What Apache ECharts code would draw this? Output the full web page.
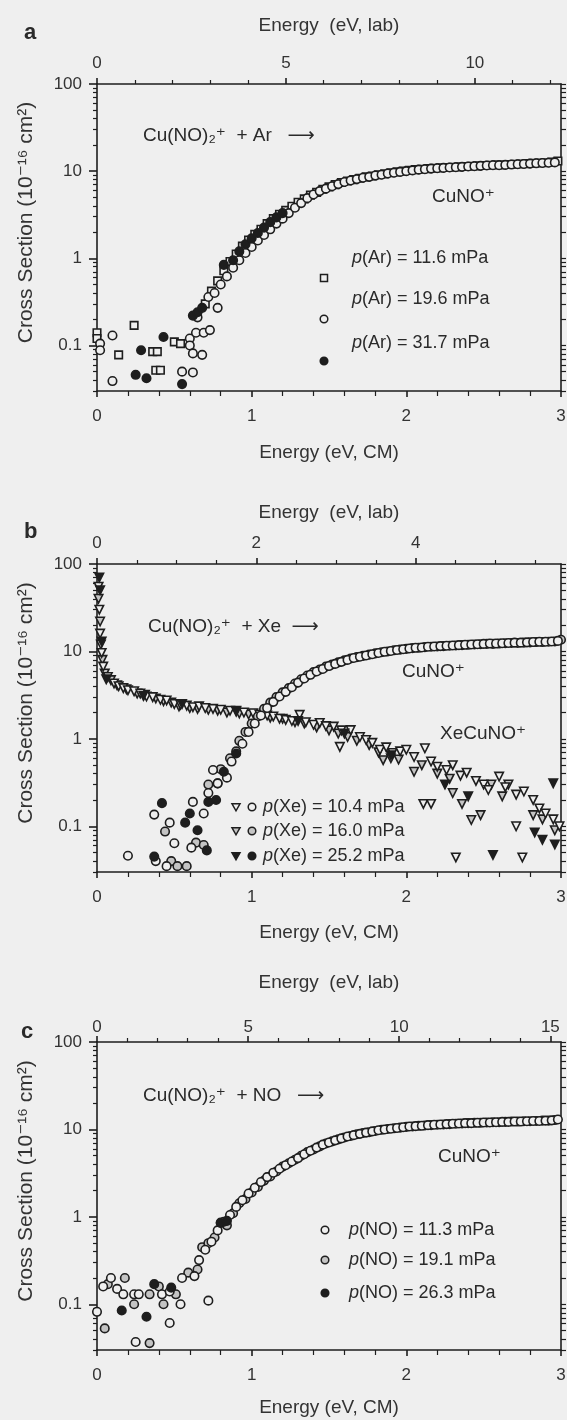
<!DOCTYPE html>
<html>
<head>
<meta charset="utf-8">
<script src="https://cdn.jsdelivr.net/npm/echarts@6/dist/echarts.min.js"></script>
<style>
  html, body { margin: 0; padding: 0; background: #efefef; }
  #chart { width: 567px; height: 1420px; }
</style>
</head>
<body>
<div id="chart"></div>
<script>
// ---- axis ticks ----
const cmTicks = [0, 1, 2, 3];
const yTickLabels = [0.1, 1, 10, 100];
const labTicksA = [0, 5, 10];
const labTicksB = [0, 2, 4];
const labTicksC = [0, 5, 10, 15];
const labMinorA = [1, 2, 3, 4, 6, 7, 8, 9, 11, 12];
const labMinorB = [0.5, 1, 1.5, 2.5, 3, 3.5, 4.5, 5, 5.5];
const labMinorC = [1, 2, 3, 4, 6, 7, 8, 9, 11, 12, 13, 14];

// masses (u) to turn CM energy into lab energy for the top axes
const ionMass = 123.57;      // Cu(NO)2+
const massAr = 39.95;
const massXe = 131.29;
const massNO = 30.01;

// ---- panel a : Cu(NO)2+ + Ar ----
const aAr116 = [
  [0.0, 0.14], [0.0, 0.12], [0.14, 0.078], [0.24, 0.17], [0.36, 0.085], [0.39, 0.085], [0.38, 0.052],
  [0.41, 0.052], [0.5, 0.11], [0.54, 0.105],
  [0.70, 0.30], [0.74, 0.42], [0.78, 0.55], [0.82, 0.72], [0.86, 0.92], [0.90, 1.12], [0.94, 1.38],
  [0.98, 1.62], [1.02, 1.88], [1.06, 2.15], [1.10, 2.5], [1.14, 2.85], [1.18, 3.2], [1.22, 3.55],
  [1.26, 3.95], [1.30, 4.4], [1.34, 4.8], [1.38, 5.3], [1.42, 5.7], [1.46, 6.2], [1.50, 6.6],
  [1.54, 7.0], [1.58, 7.4], [1.62, 7.7], [1.66, 8.0], [1.70, 8.3], [1.74, 8.6], [1.78, 8.8],
  [1.82, 9.1], [1.86, 9.3], [1.90, 9.6], [1.94, 9.8], [1.98, 10.0], [2.02, 10.2], [2.06, 10.4],
  [2.10, 10.5], [2.14, 10.7], [2.18, 10.8], [2.22, 10.9], [2.26, 11.0], [2.30, 11.1], [2.34, 11.2],
  [2.38, 11.3], [2.42, 11.4], [2.46, 11.5], [2.50, 11.6], [2.54, 11.7], [2.58, 11.8], [2.62, 11.8],
  [2.66, 11.9], [2.70, 12.0], [2.74, 12.1], [2.78, 12.2], [2.82, 12.3], [2.86, 12.4], [2.90, 12.5],
  [2.94, 12.7], [2.98, 13.1]
];
const aAr196 = [
  [0.02, 0.105], [0.02, 0.088], [0.1, 0.13], [0.1, 0.039], [0.6, 0.12], [0.6, 0.1], [0.55, 0.05],
  [0.62, 0.049], [0.62, 0.081], [0.68, 0.078], [0.64, 0.14], [0.69, 0.14], [0.73, 0.15],
  [0.65, 0.21], [0.78, 0.27],
  [0.72, 0.36], [0.76, 0.40], [0.80, 0.50], [0.84, 0.62], [0.88, 0.78], [0.92, 0.95], [0.96, 1.15],
  [1.00, 1.35], [1.04, 1.6], [1.08, 1.85], [1.12, 2.15], [1.16, 2.5], [1.20, 2.85], [1.24, 3.3],
  [1.28, 3.8], [1.32, 4.3], [1.36, 4.9], [1.40, 5.4], [1.44, 5.9], [1.48, 6.3], [1.52, 6.7],
  [1.56, 7.1], [1.60, 7.5], [1.64, 7.8], [1.68, 8.1], [1.72, 8.4], [1.76, 8.6], [1.80, 8.9],
  [1.84, 9.1], [1.88, 9.4], [1.92, 9.6], [1.96, 9.8], [2.00, 10.0], [2.04, 10.2], [2.08, 10.4],
  [2.12, 10.5], [2.16, 10.7], [2.20, 10.8], [2.24, 10.9], [2.28, 11.0], [2.32, 11.1], [2.36, 11.2],
  [2.40, 11.3], [2.44, 11.4], [2.48, 11.5], [2.52, 11.6], [2.56, 11.7], [2.60, 11.7], [2.64, 11.8],
  [2.68, 11.9], [2.72, 12.0], [2.76, 12.1], [2.80, 12.2], [2.84, 12.3], [2.88, 12.4], [2.92, 12.5],
  [2.96, 12.6]
];
const aAr317 = [
  [0.25, 0.046], [0.285, 0.088], [0.32, 0.042], [0.43, 0.125], [0.55, 0.036],
  [0.62, 0.22], [0.65, 0.24], [0.68, 0.27], [0.82, 0.84], [0.88, 0.95], [0.92, 1.2], [0.96, 1.45],
  [1.0, 1.7], [1.04, 1.95], [1.08, 2.25], [1.12, 2.6], [1.16, 2.95], [1.2, 3.3]
];

// ---- panel b : Cu(NO)2+ + Xe ----
const bCuNO104 = [
  [0.37, 0.136], [0.62, 0.19], [0.69, 0.14], [0.47, 0.11], [0.50, 0.064], [0.61, 0.057], [0.2, 0.046],
  [0.38, 0.04], [0.45, 0.035], [0.72, 0.24], [0.75, 0.44],
  [0.78, 0.31], [0.84, 0.36], [0.87, 0.55], [0.90, 0.72], [0.94, 0.88], [0.98, 1.2], [1.02, 1.5],
  [1.06, 1.85], [1.10, 2.25], [1.14, 2.65], [1.18, 3.05], [1.22, 3.45], [1.26, 3.9], [1.30, 4.4],
  [1.34, 4.9], [1.38, 5.4], [1.42, 5.9], [1.46, 6.3], [1.50, 6.8], [1.54, 7.2], [1.58, 7.6],
  [1.62, 8.0], [1.66, 8.4], [1.70, 8.7], [1.74, 9.0], [1.78, 9.3], [1.82, 9.6], [1.86, 9.9],
  [1.90, 10.1], [1.94, 10.4], [1.98, 10.6], [2.02, 10.8], [2.06, 11.0], [2.10, 11.1], [2.14, 11.3],
  [2.18, 11.4], [2.22, 11.5], [2.26, 11.6], [2.30, 11.7], [2.34, 11.8], [2.38, 11.9], [2.42, 12.0],
  [2.46, 12.1], [2.50, 12.2], [2.54, 12.3], [2.58, 12.3], [2.62, 12.4], [2.66, 12.5], [2.70, 12.6],
  [2.74, 12.6], [2.78, 12.7], [2.82, 12.8], [2.86, 12.9], [2.90, 12.9], [2.94, 13.0], [2.98, 13.2]
];
const bCuNO160 = [
  [0.44, 0.087], [0.64, 0.065], [0.69, 0.061], [0.48, 0.04], [0.52, 0.035], [0.58, 0.035],
  [0.72, 0.3], [0.78, 0.31],
  [0.80, 0.45], [0.86, 0.6], [0.92, 0.95], [0.96, 1.2], [1.00, 1.5], [1.04, 1.8], [1.08, 2.2],
  [1.12, 2.6], [1.16, 3.0], [1.20, 3.4], [1.24, 3.8], [1.28, 4.3], [1.32, 4.8], [1.36, 5.3],
  [1.40, 5.8], [1.44, 6.2], [1.48, 6.7], [1.52, 7.1], [1.56, 7.5], [1.60, 7.9], [1.64, 8.3],
  [1.68, 8.6], [1.72, 8.9], [1.76, 9.2], [1.80, 9.5], [1.84, 9.8], [1.88, 10.0], [1.92, 10.3],
  [1.96, 10.5], [2.00, 10.7], [2.04, 10.9], [2.08, 11.0], [2.12, 11.2], [2.16, 11.3], [2.20, 11.4],
  [2.24, 11.5], [2.28, 11.6], [2.32, 11.7], [2.36, 11.8], [2.40, 11.9], [2.44, 12.0], [2.48, 12.1],
  [2.52, 12.2], [2.56, 12.2], [2.60, 12.3], [2.64, 12.4], [2.68, 12.5], [2.72, 12.5], [2.76, 12.6],
  [2.80, 12.7], [2.84, 12.8], [2.88, 12.8], [2.92, 12.9], [2.96, 13.0], [3.00, 13.6]
];
const bCuNO252 = [
  [0.42, 0.184], [0.6, 0.14], [0.57, 0.11], [0.65, 0.09], [0.71, 0.053], [0.37, 0.045],
  [0.72, 0.19], [0.77, 0.2], [0.82, 0.42], [0.90, 0.68]
];
const bXe104 = [
  [0.01, 55], [0.015, 30], [0.02, 16], [0.03, 9.6], [0.04, 6.7], [0.07, 5.1], [0.11, 4.3], [0.14, 4.0],
  [0.17, 3.8], [0.2, 3.6], [0.24, 3.5], [0.28, 3.3], [0.32, 3.05], [0.36, 3.0], [0.41, 2.8],
  [0.45, 2.75], [0.5, 2.5], [0.54, 2.45], [0.58, 2.4], [0.62, 2.3], [0.66, 2.35], [0.7, 2.25],
  [0.75, 2.2], [0.8, 2.15], [0.86, 2.1], [0.9, 2.05], [0.95, 2.0], [1.01, 1.96], [1.05, 1.9],
  [1.1, 1.85], [1.14, 1.8], [1.18, 1.7], [1.22, 1.65], [1.26, 1.6], [1.31, 1.88], [1.35, 1.55],
  [1.4, 1.45], [1.44, 1.52], [1.48, 1.4], [1.53, 1.38], [1.58, 1.25], [1.64, 1.26], [1.57, 0.81],
  [1.7, 1.05], [1.74, 0.97], [1.78, 0.9], [1.83, 0.75], [1.87, 0.8], [1.91, 0.69], [1.96, 0.72],
  [2.0, 0.75], [2.05, 0.62], [2.12, 0.78], [2.16, 0.55], [2.2, 0.48], [2.26, 0.44], [2.3, 0.5],
  [2.35, 0.38], [2.39, 0.41], [2.45, 0.33], [2.5, 0.3], [2.53, 0.26], [2.6, 0.37], [2.64, 0.28],
  [2.71, 0.23], [2.76, 0.25], [2.82, 0.2], [2.86, 0.16], [2.9, 0.14], [2.95, 0.12], [2.99, 0.1],
  [2.11, 0.18], [2.16, 0.18], [2.32, 0.044], [2.71, 0.1], [2.75, 0.044]
];
const bXe160 = [
  [0.01, 40], [0.02, 22], [0.025, 12], [0.035, 8], [0.05, 5.6], [0.09, 4.7], [0.13, 4.1], [0.19, 3.7],
  [0.26, 3.3], [0.31, 3.2], [0.38, 2.9], [0.43, 2.7], [0.48, 2.6], [0.53, 2.35], [0.6, 2.25],
  [0.65, 2.2], [0.72, 2.15], [0.78, 2.1], [0.84, 2.0], [0.92, 1.95], [0.98, 1.9], [1.04, 1.85],
  [1.12, 1.75], [1.2, 1.7], [1.28, 1.55], [1.34, 1.5], [1.42, 1.35], [1.5, 1.25], [1.56, 1.15],
  [1.62, 1.05], [1.68, 0.95], [1.76, 0.85], [1.82, 0.7], [1.85, 0.57], [1.9, 0.6], [1.95, 0.58],
  [2.05, 0.42], [2.1, 0.5], [2.2, 0.4], [2.28, 0.35], [2.3, 0.24], [2.36, 0.18], [2.42, 0.118],
  [2.48, 0.134], [2.55, 0.3], [2.62, 0.22], [2.66, 0.3], [2.82, 0.134], [2.88, 0.12], [2.96, 0.09]
];
const bXe252 = [
  [0.015, 70], [0.02, 50], [0.03, 13], [0.06, 4.8], [0.3, 3.1], [0.55, 2.5], [0.9, 2.1], [1.3, 1.6],
  [1.6, 1.15], [1.9, 0.65], [2.25, 0.3], [2.4, 0.22], [2.56, 0.047], [2.83, 0.085], [2.88, 0.07],
  [2.96, 0.062], [2.95, 0.31]
];

// ---- panel c : Cu(NO)2+ + NO ----
const cNO113 = [
  [0.0, 0.082], [0.04, 0.16], [0.09, 0.2], [0.13, 0.15], [0.17, 0.13], [0.24, 0.13], [0.27, 0.13],
  [0.25, 0.037], [0.42, 0.13], [0.47, 0.14], [0.47, 0.061], [0.54, 0.1], [0.72, 0.11], [0.55, 0.2],
  [0.63, 0.21],
  [0.66, 0.32], [0.70, 0.42], [0.74, 0.52], [0.78, 0.70], [0.82, 0.88], [0.86, 1.05], [0.90, 1.3],
  [0.94, 1.55], [0.98, 1.85], [1.02, 2.15], [1.06, 2.5], [1.10, 2.85], [1.14, 3.2], [1.18, 3.55],
  [1.22, 3.9], [1.26, 4.3], [1.30, 4.7], [1.34, 5.2], [1.38, 5.7], [1.42, 6.2], [1.46, 6.7],
  [1.50, 7.1], [1.54, 7.5], [1.58, 7.9], [1.62, 8.3], [1.66, 8.6], [1.70, 8.9], [1.74, 9.2],
  [1.78, 9.5], [1.82, 9.8], [1.86, 10.0], [1.90, 10.2], [1.94, 10.4], [1.98, 10.6], [2.02, 10.8],
  [2.06, 10.9], [2.10, 11.0], [2.14, 11.2], [2.18, 11.3], [2.22, 11.4], [2.26, 11.5], [2.30, 11.6],
  [2.34, 11.7], [2.38, 11.8], [2.42, 11.8], [2.46, 11.9], [2.50, 12.0], [2.54, 12.0], [2.58, 12.1],
  [2.62, 12.2], [2.66, 12.2], [2.70, 12.3], [2.74, 12.3], [2.78, 12.4], [2.82, 12.5], [2.86, 12.5],
  [2.90, 12.6], [2.94, 12.7], [2.98, 13.0]
];
const cNO191 = [
  [0.05, 0.053], [0.07, 0.17], [0.18, 0.2], [0.24, 0.1], [0.34, 0.13], [0.34, 0.036], [0.4, 0.16],
  [0.43, 0.1], [0.51, 0.13], [0.59, 0.23], [0.65, 0.25],
  [0.68, 0.45], [0.72, 0.5], [0.76, 0.58], [0.80, 0.86], [0.84, 0.8], [0.88, 1.1], [0.92, 1.43],
  [0.96, 1.6], [1.00, 1.9], [1.04, 2.2], [1.08, 2.6], [1.12, 2.9], [1.16, 3.3], [1.20, 3.75],
  [1.24, 4.1], [1.28, 4.5], [1.32, 5.0], [1.36, 5.5], [1.40, 5.9], [1.44, 6.4], [1.48, 6.9],
  [1.52, 7.3], [1.56, 7.7], [1.60, 8.1], [1.64, 8.4], [1.68, 8.8], [1.72, 9.1], [1.76, 9.3],
  [1.80, 9.6], [1.84, 9.9], [1.88, 10.1], [1.92, 10.3], [1.96, 10.5], [2.00, 10.7], [2.04, 10.8],
  [2.08, 11.0], [2.12, 11.1], [2.16, 11.2], [2.20, 11.3], [2.24, 11.4], [2.28, 11.5], [2.32, 11.6],
  [2.36, 11.7], [2.40, 11.8], [2.44, 11.9], [2.48, 11.9], [2.52, 12.0], [2.56, 12.1], [2.60, 12.1],
  [2.64, 12.2], [2.68, 12.3], [2.72, 12.3], [2.76, 12.4], [2.80, 12.4], [2.84, 12.5], [2.88, 12.6],
  [2.92, 12.6], [2.96, 12.8]
];
const cNO263 = [
  [0.16, 0.085], [0.32, 0.072], [0.37, 0.17], [0.48, 0.155], [0.8, 0.85], [0.84, 0.9]
];

const INK = '#1e1e1e';
const PAPER = '#efefef';
const GREY = '#c4c4c4';
const FONT = '"Liberation Sans", "DejaVu Sans", Arial, sans-serif';

const panels = [
  { top: 84, height: 307, lab: 3 * (ionMass + massAr) / massAr, labTicks: labTicksA, labMinor: labMinorA,
    topMargin: 12, topGap: 49, bottomGap: 52 },
  { top: 564, height: 308, lab: 3 * (ionMass + massXe) / massXe, labTicks: labTicksB, labMinor: labMinorB,
    topMargin: 12, topGap: 42, bottomGap: 51 },
  { top: 1042, height: 308, lab: 3 * (ionMass + massNO) / massNO, labTicks: labTicksC, labMinor: labMinorC,
    topMargin: 6, topGap: 50, bottomGap: 48 }
];

const logMinor = [];
[0.01, 0.1, 1, 10].forEach((d) => {
  for (let m = 2; m <= 9; m++) {
    const v = +(d * m).toPrecision(2);
    if (v >= 0.03 && v <= 100) logMinor.push(v);
  }
});

const labelStyle = { color: '#333', fontFamily: FONT, fontSize: 17 };
const nameStyle = { color: '#333', fontFamily: FONT, fontSize: 19 };
const lineStyle = { color: INK, width: 1.6 };

const grids = [];
const xAxes = [];
const yAxes = [];

panels.forEach((p, g) => {
  grids.push({ left: 97, right: 6, top: p.top, height: p.height, outerBoundsMode: 'none' });

  // bottom CM energy axis
  xAxes.push({
    gridIndex: g, type: 'value', position: 'bottom', min: 0, max: 3, interval: 1,
    name: 'Energy (eV, CM)', nameLocation: 'middle', nameGap: p.bottomGap, nameTextStyle: nameStyle,
    axisLine: { onZero: false, lineStyle },
    axisTick: { length: 6, lineStyle },
    minorTick: { show: true, splitNumber: 5, length: 5, lineStyle: { color: INK, width: 1.2 } },
    axisLabel: Object.assign({ margin: 17 }, labelStyle),
    splitLine: { show: false }
  });
  // top lab energy axis: labels + major ticks
  xAxes.push({
    gridIndex: g, type: 'value', position: 'top', min: 0, max: p.lab,
    name: 'Energy  (eV, lab)', nameLocation: 'middle', nameGap: p.topGap, nameTextStyle: nameStyle,
    axisLine: { onZero: false, lineStyle },
    axisTick: { length: 6, lineStyle, customValues: p.labTicks },
    axisLabel: Object.assign({ margin: p.topMargin, customValues: p.labTicks }, labelStyle),
    splitLine: { show: false }
  });
  // top lab energy axis: minor ticks
  xAxes.push({
    gridIndex: g, type: 'value', position: 'top', min: 0, max: p.lab,
    axisLine: { show: false, onZero: false },
    axisTick: { length: 4, lineStyle: { color: INK, width: 1.2 }, customValues: p.labMinor },
    axisLabel: { show: false },
    splitLine: { show: false }
  });

  // left log axis with labels
  yAxes.push({
    gridIndex: g, type: 'log', logBase: 10, min: 0.03, max: 100, position: 'left',
    name: 'Cross Section (10\u207B\u00B9\u2076 cm\u00B2)', nameLocation: 'middle', nameGap: 60,
    nameRotate: 90,
    nameTextStyle: Object.assign({}, nameStyle, { fontSize: 21, padding: [0, 0, 0, 30] }),
    axisLine: { onZero: false, lineStyle },
    axisTick: { length: 8, lineStyle, customValues: yTickLabels },
    axisLabel: Object.assign({ margin: 15, customValues: yTickLabels,
      formatter: (v) => String(+v.toPrecision(3)) }, labelStyle),
    splitLine: { show: false }
  });
  // left minor log ticks
  yAxes.push({
    gridIndex: g, type: 'log', logBase: 10, min: 0.03, max: 100, position: 'left',
    axisLine: { show: false, onZero: false },
    axisTick: { length: 4, lineStyle: { color: INK, width: 1.2 }, customValues: logMinor },
    axisLabel: { show: false },
    splitLine: { show: false }
  });
  // right mirrored log axis
  yAxes.push({
    gridIndex: g, type: 'log', logBase: 10, min: 0.03, max: 100, position: 'right',
    axisLine: { onZero: false, lineStyle },
    axisTick: { length: 5, lineStyle: { color: INK, width: 1.2 }, customValues: yTickLabels.concat(logMinor) },
    axisLabel: { show: false },
    splitLine: { show: false }
  });
});

function marks(name, g, data, shape, fill) {
  const down = shape === 'down';
  return {
    name, type: 'scatter', xAxisIndex: g * 3, yAxisIndex: g * 3, data,
    symbol: down ? 'triangle' : shape,
    symbolRotate: down ? 180 : 0,
    symbolSize: shape === 'rect' ? 7.5 : 8.5,
    itemStyle: { color: fill, borderColor: INK, borderWidth: 1.6, opacity: 1 },
    silent: true
  };
}

// grey series first so the open marks sit on top, as in the scan
const series = [
  marks('p(Ar) = 11.6 mPa', 0, aAr116, 'rect', PAPER),
  marks('p(Ar) = 19.6 mPa', 0, aAr196, 'circle', PAPER),
  marks('p(Ar) = 31.7 mPa', 0, aAr317, 'circle', INK),
  marks('XeCuNO+ 16.0 mPa', 1, bXe160, 'down', GREY),
  marks('XeCuNO+ 10.4 mPa', 1, bXe104, 'down', PAPER),
  marks('XeCuNO+ 25.2 mPa', 1, bXe252, 'down', INK),
  marks('CuNO+ 16.0 mPa', 1, bCuNO160, 'circle', GREY),
  marks('CuNO+ 10.4 mPa', 1, bCuNO104, 'circle', PAPER),
  marks('CuNO+ 25.2 mPa', 1, bCuNO252, 'circle', INK),
  marks('p(NO) = 19.1 mPa', 2, cNO191, 'circle', GREY),
  marks('p(NO) = 11.3 mPa', 2, cNO113, 'circle', PAPER),
  marks('p(NO) = 26.3 mPa', 2, cNO263, 'circle', INK)
];

// ---- text and key drawn as graphics ----
function txt(x, y, text, size, extra) {
  return {
    type: 'text', x, y, silent: true,
    style: Object.assign({
      text, fill: '#2a2a2a', fontFamily: FONT, fontSize: size || 19,
      align: 'left', verticalAlign: 'middle'
    }, extra || {})
  };
}
function keyText(x, y, gas, value) {
  return txt(x, y, '{i|p}(' + gas + ') = ' + value + ' mPa', 18, {
    rich: {
      i: { fontStyle: 'italic', fontFamily: FONT, fontSize: 18, fill: '#2a2a2a' }
    }
  });
}
function dot(x, y, fill) {
  return { type: 'circle', silent: true, shape: { cx: x, cy: y, r: 3.8 },
    style: { fill, stroke: INK, lineWidth: 1.5 } };
}
function box(x, y, fill) {
  return { type: 'rect', silent: true, shape: { x: x - 3.5, y: y - 3.5, width: 7, height: 7 },
    style: { fill, stroke: INK, lineWidth: 1.5 } };
}
function tri(x, y, fill) {
  return { type: 'polygon', silent: true, shape: { points: [[x - 4, y - 3.2], [x + 4, y - 3.2], [x, y + 3.8]] },
    style: { fill, stroke: INK, lineWidth: 1.5 } };
}

const graphics = [
  txt(24, 33, 'a', 22, { fontWeight: 'bold' }),
  txt(24, 532, 'b', 22, { fontWeight: 'bold' }),
  txt(21, 1032, 'c', 22, { fontWeight: 'bold' }),

  txt(143, 136, 'Cu(NO)\u2082\u207A  + Ar   \u27F6'),
  txt(432, 197, 'CuNO\u207A'),
  keyText(352, 258, 'Ar', '11.6'),
  keyText(352, 299, 'Ar', '19.6'),
  keyText(352, 343, 'Ar', '31.7'),
  box(324, 278, PAPER),
  dot(324, 319, PAPER),
  dot(324, 361, INK),

  txt(148, 627, 'Cu(NO)\u2082\u207A  + Xe  \u27F6'),
  txt(402, 672, 'CuNO\u207A'),
  txt(440, 734, 'XeCuNO\u207A'),
  tri(236, 807, PAPER), dot(252, 807, PAPER), keyText(263, 807, 'Xe', '10.4'),
  tri(236, 831, GREY), dot(252, 831, GREY), keyText(263, 831, 'Xe', '16.0'),
  tri(236, 856, INK), dot(252, 856, INK), keyText(263, 856, 'Xe', '25.2'),

  txt(143, 1096, 'Cu(NO)\u2082\u207A  + NO   \u27F6'),
  txt(438, 1157, 'CuNO\u207A'),
  dot(325, 1230, PAPER), keyText(349, 1230, 'NO', '11.3'),
  dot(325, 1260, GREY), keyText(349, 1260, 'NO', '19.1'),
  dot(325, 1293, INK), keyText(349, 1293, 'NO', '26.3')
];

const chart = echarts.init(document.getElementById('chart'), null, { renderer: 'canvas' });
chart.setOption({
  backgroundColor: PAPER,
  animation: false,
  grid: grids,
  xAxis: xAxes,
  yAxis: yAxes,
  series: series,
  graphic: graphics
});
</script>
</body>
</html>
